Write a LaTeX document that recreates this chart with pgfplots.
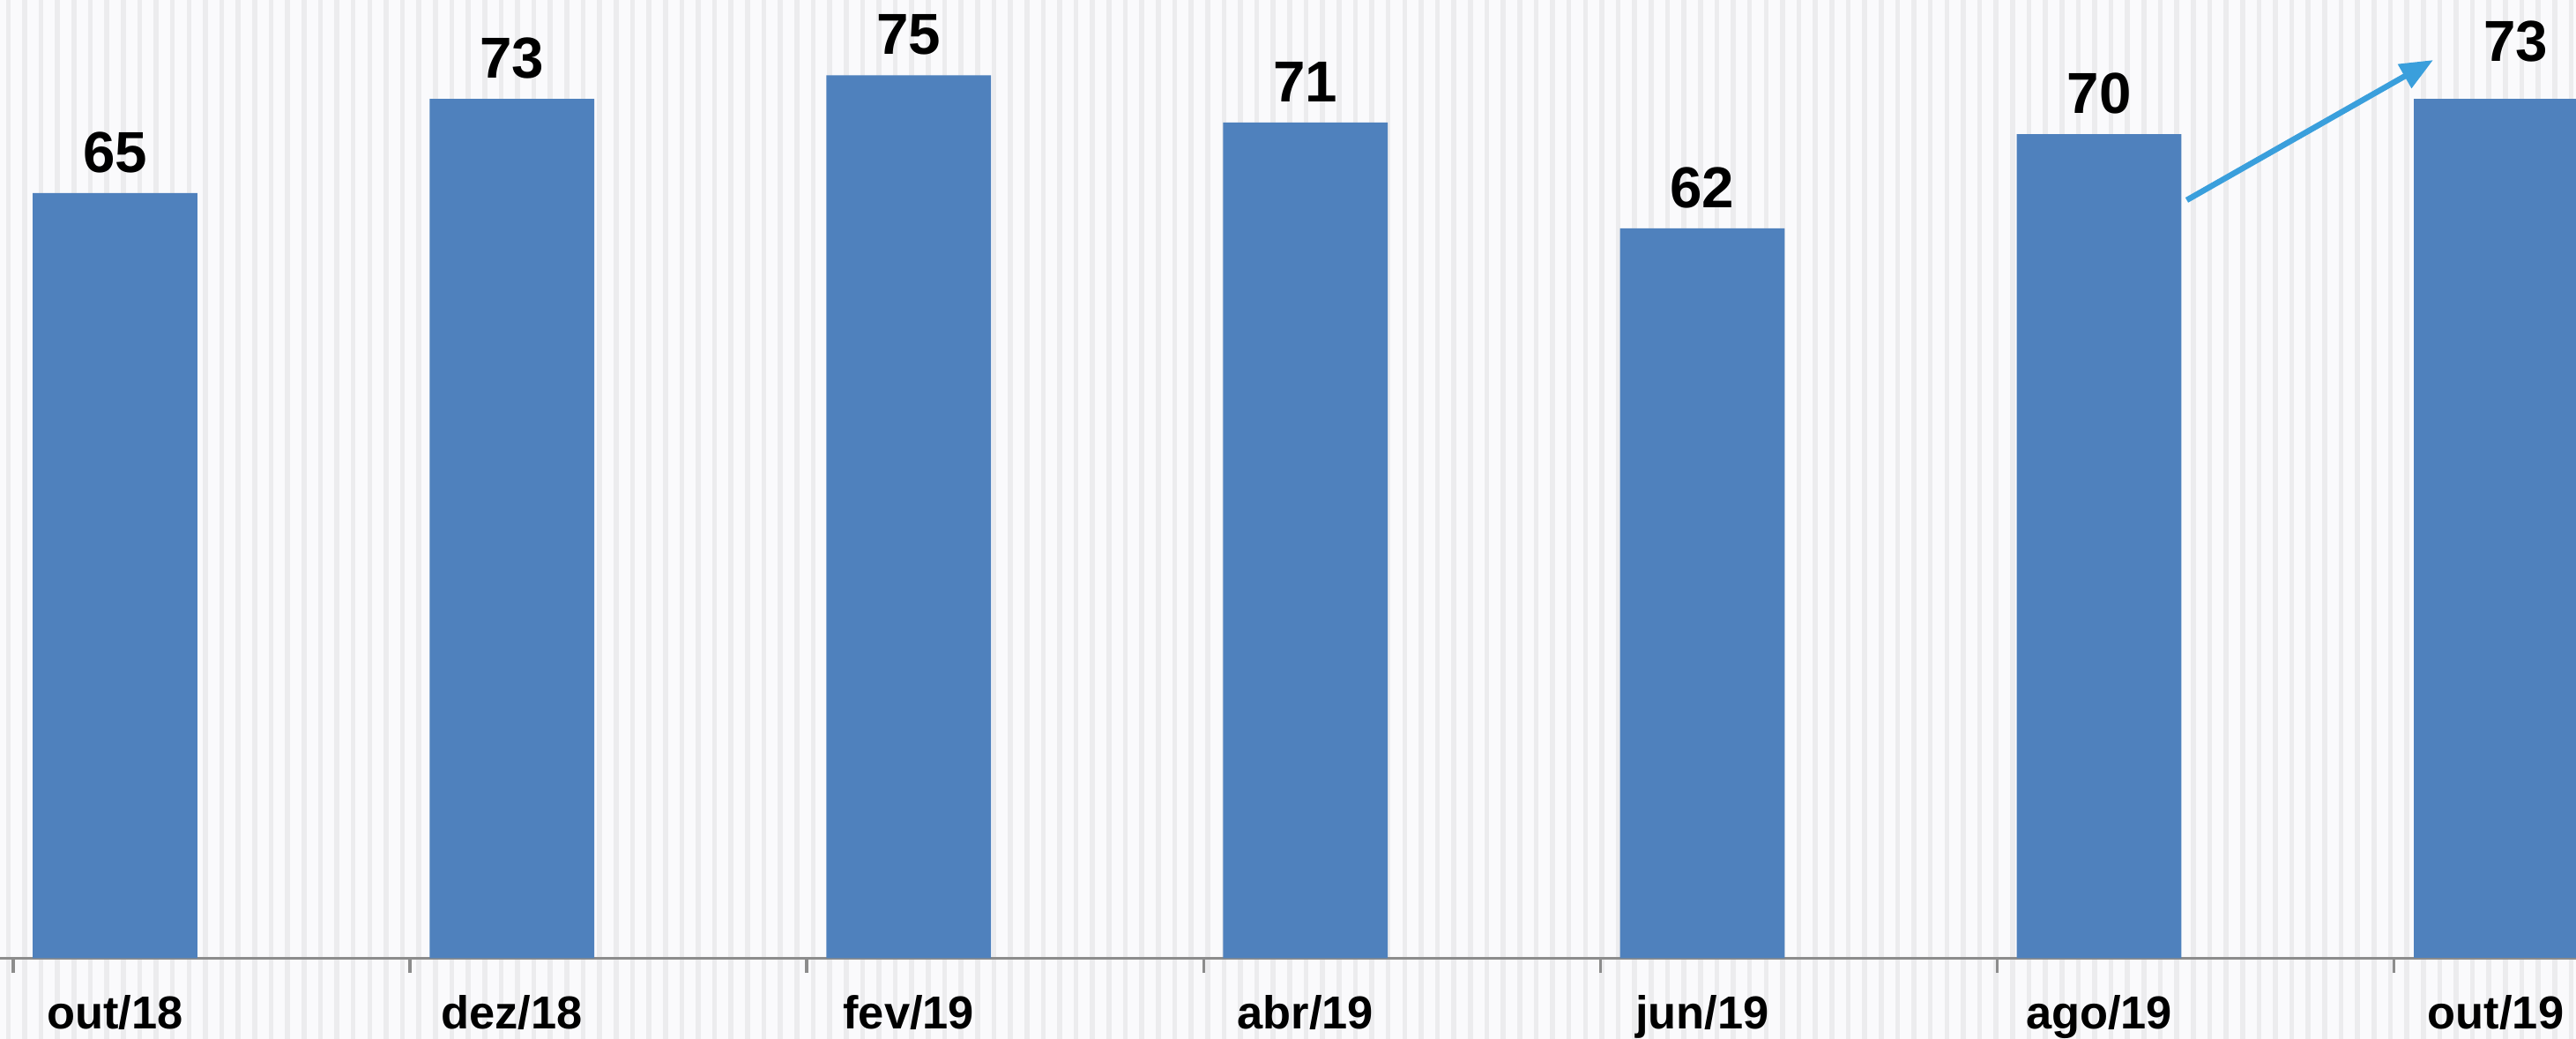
\documentclass[border=0pt]{standalone}
\usepackage{pgfplots}
\pgfplotsset{compat=1.18}
\usepackage{fontspec}
\setmainfont{Liberation Sans}
\usetikzlibrary{arrows.meta}
\definecolor{barblue}{HTML}{4F81BD}
\definecolor{arrowblue}{HTML}{3A9FDC}
\definecolor{bgc}{HTML}{FAFAFC}
\definecolor{stripe}{HTML}{ECECEE}
\definecolor{axisgray}{HTML}{8C8C8C}
\begin{document}
\begin{tikzpicture}[x=1mm,y=1mm]
\fill[bgc] (0,-4.9) rectangle (156.8,58.3);
\foreach \i in {0,...,156} { \draw[stripe, line width=0.3mm] (\i+0.5,-4.9) -- (\i+0.5,58.3); }
\begin{axis}[
  at={(0,0)}, anchor=south west,
  scale only axis, width=156.8mm, height=58.3mm,
  xmin=-0.0331, xmax=6.459, ymin=0, ymax=81.4,
  axis x line=bottom, axis y line=none,
  axis line style={axisgray, line width=0.5pt, -},
  xtick={0,1,...,6}, xticklabels={},
  tick align=outside, major tick length=0.9mm,
  tick style={axisgray, line width=0.5pt},
  extra x ticks={0.257,1.257,2.257,3.257,4.257,5.257,6.257},
  extra x tick labels={out/18,dez/18,fev/19,abr/19,jun/19,ago/19,out/19},
  extra x tick style={major tick length=0pt},
  xticklabel style={font=\bfseries\fontsize{8}{9.6}\selectfont, yshift=-1.0mm},
  /pgf/number format/assume math mode=true,
  ybar, bar width=0.415, bar shift=0pt,
  nodes near coords,
  every node near coord/.append style={font=\bfseries\fontsize{10}{12}\selectfont, black},
]
\addplot[fill=barblue, draw=none] coordinates {
  (0.257,65) (1.257,73) (2.257,75) (3.257,71) (4.257,62) (5.257,70)
};
\addplot[fill=barblue, draw=none,
  every node near coord/.append style={xshift=1.2mm, yshift=1mm}] coordinates {
  (6.257,73)
};
\draw[arrowblue, line width=0.35mm, -{Triangle[length=2mm,width=1.6mm]}]
  (axis cs:5.478,64.4) -- (axis cs:6.099,76.3);
\end{axis}
\pgfresetboundingbox
\useasboundingbox (0,-4.9) rectangle (156.8,58.3);
\end{tikzpicture}
\end{document}
